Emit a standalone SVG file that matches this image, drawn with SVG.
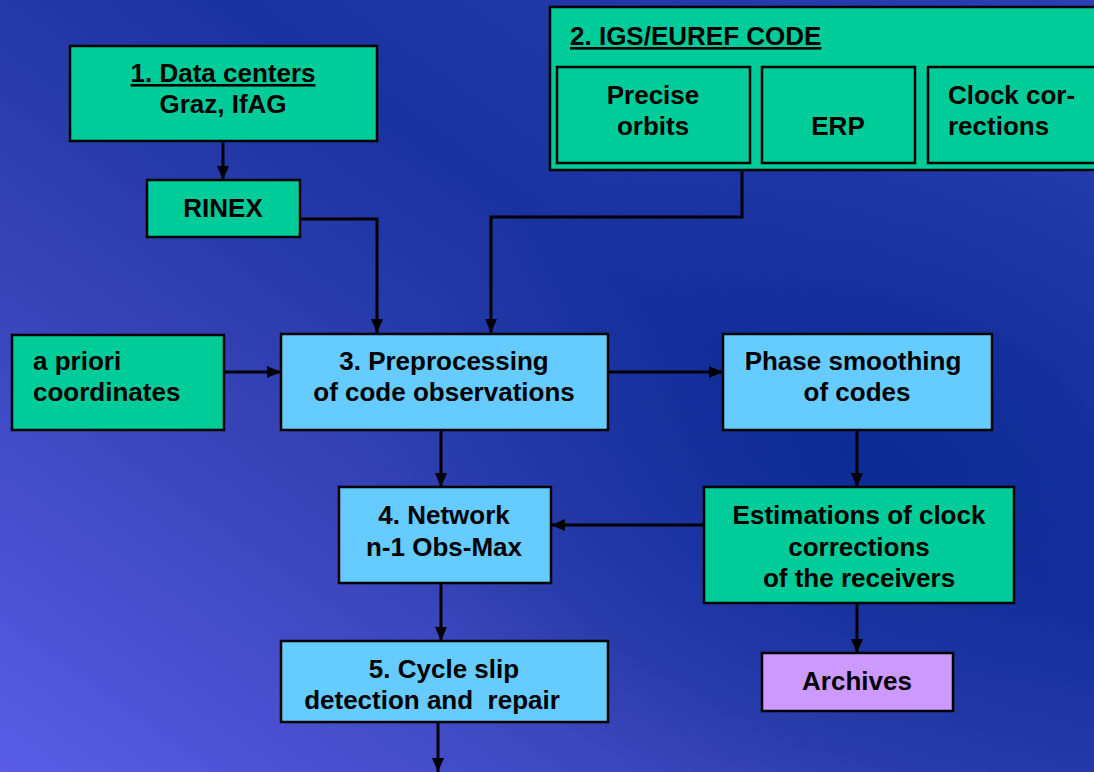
<svg xmlns="http://www.w3.org/2000/svg" width="1094" height="772" viewBox="0 0 1094 772">
<defs>
<linearGradient id="bg" x1="0" y1="1" x2="1" y2="0">
<stop offset="0" stop-color="#5a5ce6"/>
<stop offset="0.35" stop-color="#3442b4"/>
<stop offset="0.6" stop-color="#1a32a0"/>
<stop offset="1" stop-color="#2a3fb2"/>
</linearGradient>
<radialGradient id="dark" cx="0.8" cy="0.6" r="0.45">
<stop offset="0" stop-color="#07288f" stop-opacity="0.7"/>
<stop offset="1" stop-color="#07288f" stop-opacity="0"/>
</radialGradient>
<marker id="ah" viewBox="0 0 14 12" refX="14" refY="6" markerWidth="14" markerHeight="12" markerUnits="userSpaceOnUse" orient="auto">
<path d="M0,0 L14,6 L0,12 z" fill="#000"/>
</marker>
<style>
.g{fill:#00cc99;stroke:#000;stroke-width:2.5}
.b{fill:#66ccff;stroke:#000;stroke-width:2.5}
.p{fill:#cc99ff;stroke:#000;stroke-width:2.5}
text{font-family:"Liberation Sans",Arial,sans-serif;font-weight:bold;font-size:26px;fill:#000}
.c{text-anchor:middle}
.u{text-decoration:underline}
.con{fill:none;stroke:#000;stroke-width:3}
</style>
</defs>
<rect width="1094" height="772" fill="url(#bg)"/>
<rect width="1094" height="772" fill="url(#dark)"/>

<g id="connectors">
<path class="con" d="M223,141 V180" marker-end="url(#ah)"/>
<path class="con" d="M300,219 H377 V333" marker-end="url(#ah)"/>
<path class="con" d="M742,170 V217 H491 V333" marker-end="url(#ah)"/>
<path class="con" d="M224,372 H281" marker-end="url(#ah)"/>
<path class="con" d="M608,372 H723" marker-end="url(#ah)"/>
<path class="con" d="M857,430 V487" marker-end="url(#ah)"/>
<path class="con" d="M704,525 H551" marker-end="url(#ah)"/>
<path class="con" d="M441,430 V487" marker-end="url(#ah)"/>
<path class="con" d="M441,583 V641" marker-end="url(#ah)"/>
<path class="con" d="M438,722 V772" marker-end="url(#ah)"/>
<path class="con" d="M857,603 V653" marker-end="url(#ah)"/>
</g>

<g id="datacenters">
<rect class="g" x="70" y="46" width="307" height="95"/>
<text class="c u" x="223" y="82">1. Data centers</text>
<text class="c" x="223" y="113">Graz, IfAG</text>
</g>

<g id="rinex">
<rect class="g" x="147" y="180" width="153" height="57"/>
<text class="c" x="223" y="217">RINEX</text>
</g>

<g id="igs">
<rect class="g" x="550" y="7" width="560" height="163"/>
<text class="u" x="570" y="45">2. IGS/EUREF CODE</text>
</g>
<g id="orbits">
<rect class="g" x="557" y="67" width="193" height="96"/>
<text class="c" x="653" y="104">Precise</text>
<text class="c" x="653" y="135">orbits</text>
</g>
<g id="erp">
<rect class="g" x="762" y="67" width="153" height="96"/>
<text class="c" x="838" y="135">ERP</text>
</g>
<g id="clock">
<rect class="g" x="928" y="67" width="180" height="96"/>
<text x="948" y="104">Clock cor-</text>
<text x="948" y="135">rections</text>
</g>

<g id="apriori">
<rect class="g" x="12" y="335" width="212" height="95"/>
<text x="33" y="370">a priori</text>
<text x="33" y="401">coordinates</text>
</g>

<g id="preprocessing">
<rect class="b" x="281" y="334" width="327" height="96"/>
<text class="c" x="444" y="370">3. Preprocessing</text>
<text class="c" x="444" y="401">of code observations</text>
</g>

<g id="phase">
<rect class="b" x="723" y="334" width="269" height="96"/>
<text class="c" x="853" y="370">Phase smoothing</text>
<text class="c" x="857" y="401">of codes</text>
</g>

<g id="estimations">
<rect class="g" x="704" y="487" width="310" height="116"/>
<text class="c" x="859" y="524">Estimations of clock</text>
<text class="c" x="859" y="556">corrections</text>
<text class="c" x="859" y="587">of the receivers</text>
</g>

<g id="network">
<rect class="b" x="339" y="487" width="212" height="96"/>
<text class="c" x="444" y="524">4. Network</text>
<text class="c" x="444" y="556">n-1 Obs-Max</text>
</g>

<g id="cycleslip">
<rect class="b" x="281" y="641" width="327" height="81"/>
<text class="c" x="444" y="678">5. Cycle slip</text>
<text class="c" x="432" y="709" xml:space="preserve">detection and  repair</text>
</g>

<g id="archives">
<rect class="p" x="762" y="653" width="191" height="58"/>
<text class="c" x="857" y="690">Archives</text>
</g>
</svg>
